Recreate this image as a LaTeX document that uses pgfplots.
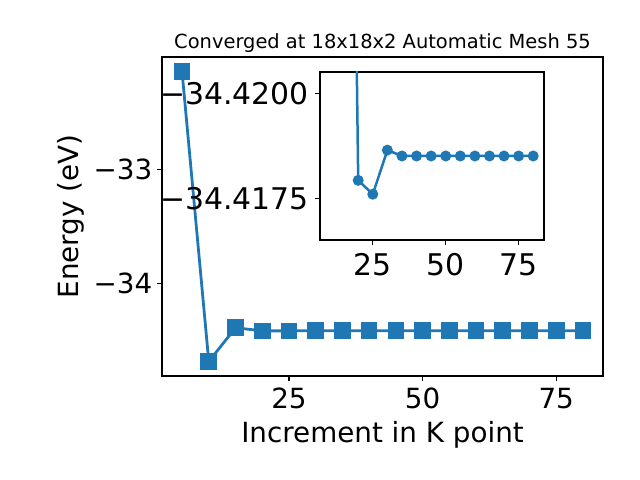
\documentclass[border=0pt]{standalone}
\usepackage{pgfplots}
\pgfplotsset{compat=1.18}
\usepackage{fontspec}
\setmainfont{DejaVu Sans}
\definecolor{mplblue}{HTML}{1F77B4}
\begin{document}
\begin{tikzpicture}[x=1pt,y=1pt]
\path[use as bounding box] (0,0) rectangle (460.8,345.6);
\begin{axis}[
  at={(116.64pt,74.88pt)}, anchor=south west,
  scale only axis, width=317.52pt, height=229.68pt,
  xmin=1.25, xmax=83.75, ymin=-34.813, ymax=-32.015,
  xtick={25,50,75}, xticklabels={25,50,75},
  ytick={-34,-33}, yticklabels={−34,−33},
  xtick pos=bottom, ytick pos=left,
  tick align=outside, major tick length=3.5pt,
  tick style={black, line width=0.8pt},
  axis line style={line width=0.8pt},
  every tick label/.append style={font=\fontsize{20}{20}\selectfont},
  xticklabel style={yshift=-1.5pt},
  xlabel={Increment in K point}, ylabel={Energy (eV)},
  label style={font=\fontsize{20}{20}\selectfont},
  xlabel style={yshift=-2pt},
  title={Converged at 18x18x2 Automatic Mesh 55},
  title style={font=\fontsize{14}{14}\selectfont, at={(axis description cs:0.5,1)}, anchor=south, yshift=-6pt},
]
\addplot[color=mplblue, line width=2pt, mark=square*, mark size=5pt, mark options={fill=mplblue, draw=mplblue}] coordinates {
(5,-32.143) (10,-34.686) (15,-34.39) (20,-34.41706) (25,-34.41739) (30,-34.41634)
(35,-34.41648) (40,-34.41648) (45,-34.41648) (50,-34.41648) (55,-34.41648) (60,-34.41648)
(65,-34.41648) (70,-34.41648) (75,-34.41648) (80,-34.41648)
};
\end{axis}
% inset: y values are offsets from -34.4175 eV in units of 1e-4 eV
\begin{axis}[
  at={(230.4pt,172.8pt)}, anchor=south west,
  scale only axis, width=161.28pt, height=120.96pt,
  axis background/.style={fill=white},
  xmin=6.9, xmax=83.7, ymin=-9.8, ymax=30.2,
  xtick={25,50,75}, xticklabels={25,50,75},
  ytick={0,25}, yticklabels={−34.4175,−34.4200},
  xtick pos=bottom, ytick pos=left,
  tick align=outside, major tick length=3.5pt,
  tick style={black, line width=0.8pt},
  axis line style={line width=0.8pt},
  every tick label/.append style={font=\fontsize{21.5}{21.5}\selectfont},
  xticklabel style={yshift=-2.5pt},
  yticklabel style={xshift=-1pt},
]
\addplot[color=mplblue, line width=1.8pt, mark=*, mark size=3pt, mark options={fill=mplblue, draw=mplblue}] coordinates {
(15,275) (20,4.4) (25,1.1) (30,11.6)
(35,10.2) (40,10.2) (45,10.2) (50,10.2) (55,10.2) (60,10.2)
(65,10.2) (70,10.2) (75,10.2) (80,10.2)
};
\end{axis}
\end{tikzpicture}
\end{document}
